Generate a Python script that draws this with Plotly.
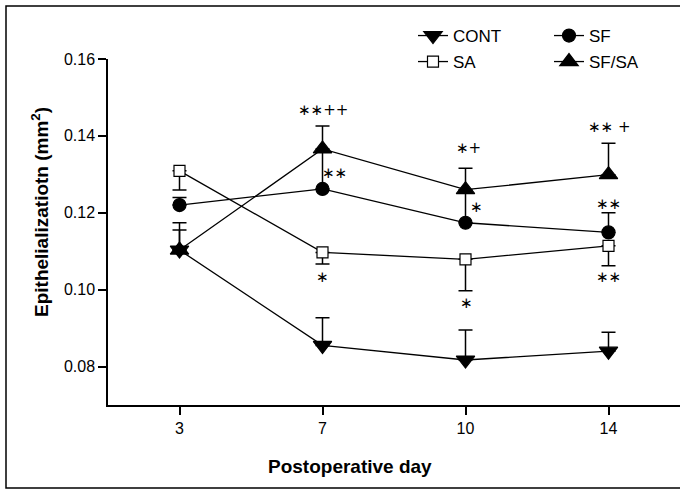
import plotly.graph_objects as go

days = ["3", "7", "10", "14"]

cont = [0.1103, 0.0855, 0.0817, 0.0840]
cont_err = [0.0071, 0.0072, 0.0078, 0.0049]
sf = [0.1220, 0.1262, 0.1174, 0.1149]
sf_err = [0.0020, 0.0096, 0.0078, 0.0051]
sa = [0.1309, 0.1097, 0.1079, 0.1114]
sa_err = [0.0050, 0.0030, 0.0082, 0.0052]
sfsa = [0.1103, 0.1366, 0.1260, 0.1299]
sfsa_err = [0.0052, 0.0060, 0.0056, 0.0082]

y_ticks = [0.08, 0.10, 0.12, 0.14, 0.16]
y_tick_text = ["0.08", "0.10", "0.12", "0.14", "0.16"]

ann_text = ["∗∗++", "∗∗", "∗", "∗+", "∗", "∗", "∗∗ +", "∗∗", "∗∗"]
ann_day = ["7", "7", "7", "10", "10", "10", "14", "14", "14"]
ann_y = [0.1467, 0.1303, 0.1033, 0.1368, 0.1215, 0.0965, 0.1423, 0.1223, 0.1033]
ann_dx = [0, 12, 0, 3, 11, 1, 0, 0, 0]

BLACK = "black"
fig = go.Figure()


def add_series(name, y, err, symbol, size, fill, legend, minus=False):
    zeros = [0] * len(err)
    eb = dict(type="data", symmetric=False, color=BLACK, thickness=1.5, width=7,
              array=zeros if minus else err, arrayminus=err if minus else zeros)
    fig.add_trace(go.Scatter(
        x=days, y=y, name=name, mode="lines+markers",
        line=dict(color=BLACK, width=1.3),
        marker=dict(symbol=symbol, size=size, color=fill,
                    line=dict(color=BLACK, width=1.2)),
        error_y=eb, legend=legend,
    ))


add_series("CONT", cont, cont_err, "triangle-down", 16, BLACK, "legend")
add_series("SF", sf, sf_err, "circle", 13, BLACK, "legend2")
add_series("SA", sa, sa_err, "square", 11, "white", "legend3", minus=True)
add_series("SF/SA", sfsa, sfsa_err, "triangle-up", 16, BLACK, "legend4")

for t, d, yv, dx in zip(ann_text, ann_day, ann_y, ann_dx):
    fig.add_annotation(x=days.index(d), y=yv, text=t, showarrow=False, xshift=dx,
                       xanchor="center", yanchor="middle",
                       font=dict(size=15, color=BLACK, family="DejaVu Sans"))

PL, PR, PT, PB = 108, 0, 59, 85
W, H = 680, 490
pw = W - PL - PR
ph = H - PT - PB


def px_to_paper_x(px):
    return (px - PL) / pw


def px_to_paper_y(py):
    return (H - PB - py) / ph


fig.add_annotation(xref="paper", yref="paper", x=px_to_paper_x(350), y=px_to_paper_y(466),
                   xanchor="center", yanchor="middle",
                   text="<b>Postoperative day</b>", showarrow=False,
                   font=dict(size=19, color=BLACK, family="Arial"))
fig.add_annotation(xref="paper", yref="paper", x=px_to_paper_x(40), y=px_to_paper_y(212),
                   xanchor="center", yanchor="middle",
                   text="<b>Epithelializatiotn (mm<sup>2</sup>)</b>", showarrow=False,
                   textangle=-90, font=dict(size=19, color=BLACK, family="Arial"))

fig.add_shape(type="rect", xref="paper", yref="paper",
              x0=px_to_paper_x(6), x1=px_to_paper_x(700),
              y0=px_to_paper_y(488), y1=px_to_paper_y(6),
              line=dict(color=BLACK, width=1.5), layer="below")

leg_font = dict(size=17, color=BLACK, family="Arial")
leg_common = dict(orientation="h", xanchor="left", yanchor="middle",
                  bgcolor="rgba(0,0,0,0)", font=leg_font, itemwidth=30)
fig.update_layout(
    width=W, height=H,
    margin=dict(l=PL, r=PR, t=PT, b=PB),
    paper_bgcolor="white", plot_bgcolor="white",
    font=dict(family="Arial", color=BLACK),
    legend=dict(x=px_to_paper_x(413), y=px_to_paper_y(36), **leg_common),
    legend2=dict(x=px_to_paper_x(549), y=px_to_paper_y(36), **leg_common),
    legend3=dict(x=px_to_paper_x(413), y=px_to_paper_y(62), **leg_common),
    legend4=dict(x=px_to_paper_x(549), y=px_to_paper_y(62), **leg_common),
    xaxis=dict(type="category", range=[-0.5, 3.5], showgrid=False, zeroline=False,
               showline=True, linecolor=BLACK, linewidth=1.5,
               ticks="outside", ticklen=8, tickwidth=1.5, tickcolor=BLACK,
               tickfont=dict(size=16, color=BLACK, family="Arial")),
    yaxis=dict(range=[0.07, 0.16], showgrid=False, zeroline=False,
               showline=True, linecolor=BLACK, linewidth=1.5,
               tickvals=y_ticks, ticktext=y_tick_text,
               ticks="outside", ticklen=8, tickwidth=1.5, tickcolor=BLACK,
               tickfont=dict(size=16, color=BLACK, family="Arial")),
    showlegend=True,
)

fig.write_html("out.html",
               config={"displayModeBar": False},
               post_script="document.body.style.margin='0';document.body.style.overflow='hidden';")
